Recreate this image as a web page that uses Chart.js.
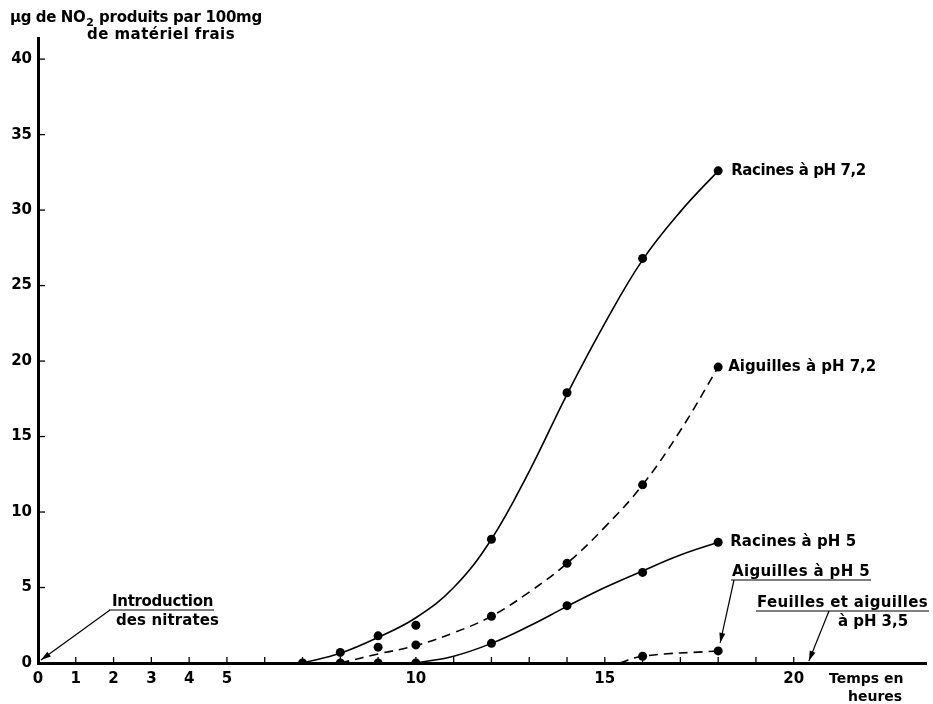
<!DOCTYPE html>
<html>
<head>
<meta charset="utf-8">
<script src="https://cdn.jsdelivr.net/npm/chart.js@4.4.1/dist/chart.umd.min.js"></script>
<style>
  body { margin: 0; background: #fff; }
  #wrap { width: 933px; height: 704px; position: relative; }
</style>
</head>
<body>
<div id="wrap"><canvas id="no2Chart"></canvas></div>
<script>
// measured points (hours, µg NO2 per 100 mg)
const racines72Hours = [7, 8, 9, 10, 12, 14, 16, 18];
const racines72Values = [0, 0.7, 1.8, 2.5, 8.2, 17.9, 26.8, 32.6];
const aiguilles72Hours = [8, 9, 10, 12, 14, 16, 18];
const aiguilles72Values = [0, 1.05, 1.2, 3.1, 6.6, 11.8, 19.6];
const racines5Hours = [9, 10, 12, 14, 16, 18];
const racines5Values = [0, 0, 1.3, 3.8, 6.0, 8.0];
const aiguilles5Hours = [16, 18];
const aiguilles5Values = [0.45, 0.8];

// hand drawn curves
const racines72CurveHours = [7, 8, 9, 10, 11, 12, 13, 14, 15, 16, 17, 18];
const racines72CurveValues = [0, 0.65, 1.7, 3.0, 5.0, 8.2, 12.7, 17.8, 22.5, 26.7, 29.9, 32.6];
const aiguilles72CurveHours = [8, 9, 10, 11, 12, 13, 14, 15, 16, 17, 18];
const aiguilles72CurveValues = [0, 0.6, 1.15, 2.0, 3.1, 4.7, 6.6, 9.0, 11.8, 15.4, 19.6];
const racines5CurveHours = [10, 11, 12, 13, 14, 15, 16, 17, 18];
const racines5CurveValues = [0, 0.45, 1.3, 2.45, 3.75, 5.0, 6.1, 7.15, 8.0];
const aiguilles5CurveHours = [15.4, 16, 18];
const aiguilles5CurveValues = [0, 0.45, 0.8];

const xTickLabels = [0, 1, 2, 3, 4, 5, 10, 15, 20];
const yTickLabels = [0, 5, 10, 15, 20, 25, 30, 35, 40];

const FONT = '"DejaVu Sans", sans-serif';

function pts(xs, ys) {
    return xs.map((x, i) => ({ x: x, y: ys[i] }));
}

function curve(xs, ys, dash) {
    return {
        data: pts(xs, ys),
        showLine: true,
        borderColor: '#000',
        borderWidth: 1.6,
        borderDash: dash || [],
        pointRadius: 0,
        tension: 0.4,
        fill: false
    };
}

function dots(xs, ys) {
    return {
        data: pts(xs, ys),
        showLine: false,
        pointRadius: 4.5,
        pointBackgroundColor: '#000',
        pointBorderColor: '#000',
        pointBorderWidth: 0
    };
}

function arrow(ctx, x1, y1, x2, y2) {
    ctx.beginPath();
    ctx.moveTo(x1, y1);
    ctx.lineTo(x2, y2);
    ctx.stroke();
    const a = Math.atan2(y2 - y1, x2 - x1);
    const len = 10, w = 3;
    ctx.beginPath();
    ctx.moveTo(x2, y2);
    ctx.lineTo(x2 - len * Math.cos(a) + w * Math.sin(a), y2 - len * Math.sin(a) - w * Math.cos(a));
    ctx.lineTo(x2 - len * Math.cos(a) - w * Math.sin(a), y2 - len * Math.sin(a) + w * Math.cos(a));
    ctx.closePath();
    ctx.fill();
}

// draw text spread out to the width it has on the original figure
function fitText(ctx, text, x, y, w) {
    ctx.letterSpacing = '0px';
    const natural = ctx.measureText(text).width;
    const extra = Math.max(-0.4, (w - natural) / text.length);
    ctx.letterSpacing = extra.toFixed(2) + 'px';
    ctx.fillText(text, x, y);
    const drawn = ctx.measureText(text).width;
    ctx.letterSpacing = '0px';
    return drawn;
}

function underline(ctx, x, y, w) {
    ctx.beginPath();
    ctx.moveTo(x - 1, y);
    ctx.lineTo(x + w + 1, y);
    ctx.stroke();
}

// small inward tick marks on both axes
const tickMarks = {
    id: 'tickMarks',
    afterDatasetsDraw(chart) {
        const ctx = chart.ctx, xs = chart.scales.x, ys = chart.scales.y;
        const left = chart.chartArea.left, bottom = chart.chartArea.bottom;
        ctx.save();
        ctx.strokeStyle = '#000';
        ctx.lineWidth = 1.3;
        for (let h = 1; h <= 20; h++) {
            const px = xs.getPixelForValue(h);
            ctx.beginPath();
            ctx.moveTo(px, bottom);
            ctx.lineTo(px, bottom - 6);
            ctx.stroke();
        }
        for (let v = 5; v <= 40; v += 5) {
            const py = ys.getPixelForValue(v);
            ctx.beginPath();
            ctx.moveTo(left, py);
            ctx.lineTo(left + 7, py);
            ctx.stroke();
        }
        ctx.restore();
    }
};

const notes = {
    id: 'notes',
    afterDraw(chart) {
        const ctx = chart.ctx, xs = chart.scales.x, ys = chart.scales.y;
        ctx.save();
        ctx.fillStyle = '#000';
        ctx.strokeStyle = '#000';
        ctx.lineWidth = 1.2;
        ctx.font = 'bold 15px ' + FONT;
        ctx.textBaseline = 'middle';
        ctx.textAlign = 'left';

        // y axis title
        const w1 = fitText(ctx, 'µg de NO', 10, 18, 70);
        ctx.font = 'bold 11px ' + FONT;
        ctx.fillText('2', 10 + w1 + 1, 23);
        ctx.font = 'bold 15px ' + FONT;
        fitText(ctx, 'produits par 100mg', 99, 18, 163);
        fitText(ctx, 'de matériel frais', 87, 35, 148);

        // x axis title
        ctx.font = 'bold 14px ' + FONT;
        ctx.fillText('Temps en', 829, 679);
        ctx.fillText('heures', 848, 697);
        ctx.font = 'bold 15px ' + FONT;

        // labels beside the last points
        const lx = xs.getPixelForValue(18) + 13;
        fitText(ctx, 'Racines à pH 7,2', lx, ys.getPixelForValue(32.6), 134);
        fitText(ctx, 'Aiguilles à pH 7,2', lx - 3, ys.getPixelForValue(19.6), 148);
        fitText(ctx, 'Racines à pH 5', lx - 1, ys.getPixelForValue(8.0), 126);

        // Aiguilles à pH 5
        fitText(ctx, 'Aiguilles à pH 5', 732, 572, 138);
        underline(ctx, 732, 580, 138);
        arrow(ctx, 734, 580, xs.getPixelForValue(18) + 2, ys.getPixelForValue(0.8) - 8);

        // Feuilles et aiguilles à pH 3,5
        fitText(ctx, 'Feuilles et aiguilles', 757, 603, 171);
        underline(ctx, 757, 611, 171);
        fitText(ctx, 'à pH 3,5', 838, 622, 70);
        arrow(ctx, 829, 611, xs.getPixelForValue(20.4), ys.getPixelForValue(0) - 2);

        // Introduction des nitrates
        fitText(ctx, 'Introduction', 112, 602, 101);
        underline(ctx, 110, 610, 103);
        fitText(ctx, 'des nitrates', 116, 621, 103);
        arrow(ctx, 110, 610, xs.getPixelForValue(0) + 3, ys.getPixelForValue(0) - 3);

        ctx.restore();
    }
};

const ctx = document.getElementById('no2Chart').getContext('2d');
new Chart(ctx, {
    type: 'scatter',
    data: {
        datasets: [
            curve(racines72CurveHours, racines72CurveValues),
            curve(aiguilles72CurveHours, aiguilles72CurveValues, [9, 6]),
            curve(racines5CurveHours, racines5CurveValues),
            curve(aiguilles5CurveHours, aiguilles5CurveValues, [9, 6]),
            dots(racines72Hours, racines72Values),
            dots(aiguilles72Hours, aiguilles72Values),
            dots(racines5Hours, racines5Values),
            dots(aiguilles5Hours, aiguilles5Values)
        ]
    },
    options: {
        responsive: true,
        maintainAspectRatio: false,
        animation: false,
        layout: { padding: { top: 38, right: 4, left: 0, bottom: 0 } },
        plugins: {
            legend: { display: false },
            tooltip: { enabled: false }
        },
        scales: {
            x: {
                type: 'linear',
                min: 0,
                max: 23.5,
                afterFit(s) { s.height = 41; },
                grid: { display: true, drawOnChartArea: false, drawTicks: false },
                border: { display: true, color: '#000', width: 3 },
                ticks: {
                    stepSize: 1,
                    autoSkip: false,
                    maxRotation: 0,
                    padding: 7,
                    color: '#000',
                    font: { family: FONT, size: 15, weight: 'bold' },
                    callback: v => xTickLabels.includes(v) ? String(v) : ''
                }
            },
            y: {
                type: 'linear',
                min: 0,
                max: 41.4,
                afterFit(s) { s.width = 38; },
                grid: { display: true, drawOnChartArea: false, drawTicks: false },
                border: { display: true, color: '#000', width: 3 },
                ticks: {
                    stepSize: 5,
                    autoSkip: false,
                    padding: 6,
                    color: '#000',
                    font: { family: FONT, size: 15, weight: 'bold' },
                    callback: v => yTickLabels.includes(v) ? String(v) : ''
                }
            }
        }
    },
    plugins: [tickMarks, notes]
});
</script>
</body>
</html>
